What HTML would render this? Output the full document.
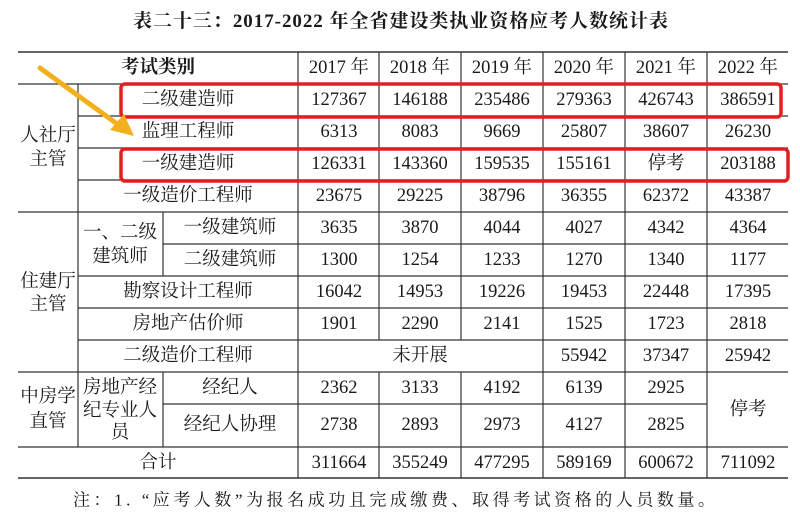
<!DOCTYPE html>
<html><head><meta charset="utf-8"><style>
html,body{margin:0;padding:0;background:#fff;}
svg{display:block;}
text{font-family:"Liberation Serif","Noto Serif CJK SC",serif;fill:#1a1a1a;}
</style></head><body>
<svg width="800" height="519" viewBox="0 0 800 519" xmlns="http://www.w3.org/2000/svg">
<text x="133" y="27" font-size="19" font-weight="bold" textLength="535" lengthAdjust="spacing">表二十三：2017-2022 年全省建设类执业资格应考人数统计表</text>
<g stroke="#333" stroke-width="1.2" fill="none">
<line x1="18" y1="52" x2="788" y2="52" stroke-width="1.6"/>
<line x1="18" y1="84" x2="788" y2="84"/>
<line x1="78" y1="116" x2="788" y2="116"/>
<line x1="78" y1="148" x2="788" y2="148"/>
<line x1="78" y1="180" x2="788" y2="180"/>
<line x1="18" y1="212" x2="788" y2="212"/>
<line x1="163" y1="244" x2="788" y2="244"/>
<line x1="78" y1="276" x2="788" y2="276"/>
<line x1="78" y1="308" x2="788" y2="308"/>
<line x1="78" y1="340" x2="788" y2="340"/>
<line x1="18" y1="372" x2="788" y2="372"/>
<line x1="163" y1="404" x2="707" y2="404"/>
<line x1="18" y1="447" x2="788" y2="447"/>
<line x1="18" y1="478" x2="788" y2="478" stroke-width="1.6"/>
<line x1="78" y1="84" x2="78" y2="447"/>
<line x1="163" y1="212" x2="163" y2="276"/>
<line x1="163" y1="372" x2="163" y2="447"/>
<line x1="298" y1="52" x2="298" y2="478"/>
<line x1="379" y1="52" x2="379" y2="340"/>
<line x1="379" y1="372" x2="379" y2="478"/>
<line x1="461" y1="52" x2="461" y2="340"/>
<line x1="461" y1="372" x2="461" y2="478"/>
<line x1="543" y1="52" x2="543" y2="478"/>
<line x1="625" y1="52" x2="625" y2="478"/>
<line x1="707" y1="52" x2="707" y2="478"/>
</g>
<g font-size="18.5" text-anchor="middle" dominant-baseline="central">
<text x="158" y="68" font-weight="bold">考试类别</text>
<text x="339" y="68">2017 年</text><text x="420" y="68">2018 年</text><text x="502" y="68">2019 年</text><text x="584" y="68">2020 年</text><text x="666" y="68">2021 年</text><text x="748" y="68">2022 年</text>
<text x="48" y="136">人社厅</text><text x="48" y="160">主管</text>
<text x="188" y="100">二级建造师</text><text x="339" y="100">127367</text><text x="420" y="100">146188</text><text x="502" y="100">235486</text><text x="584" y="100">279363</text><text x="666" y="100">426743</text><text x="748" y="100">386591</text>
<text x="188" y="132">监理工程师</text><text x="339" y="132">6313</text><text x="420" y="132">8083</text><text x="502" y="132">9669</text><text x="584" y="132">25807</text><text x="666" y="132">38607</text><text x="748" y="132">26230</text>
<text x="188" y="164">一级建造师</text><text x="339" y="164">126331</text><text x="420" y="164">143360</text><text x="502" y="164">159535</text><text x="584" y="164">155161</text><text x="666" y="164">停考</text><text x="748" y="164">203188</text>
<text x="188" y="196">一级造价工程师</text><text x="339" y="196">23675</text><text x="420" y="196">29225</text><text x="502" y="196">38796</text><text x="584" y="196">36355</text><text x="666" y="196">62372</text><text x="748" y="196">43387</text>
<text x="48" y="282">住建厅</text><text x="48" y="305">主管</text>
<text x="120" y="233">一、二级</text><text x="120" y="257">建筑师</text>
<text x="230" y="228">一级建筑师</text><text x="339" y="228">3635</text><text x="420" y="228">3870</text><text x="502" y="228">4044</text><text x="584" y="228">4027</text><text x="666" y="228">4342</text><text x="748" y="228">4364</text>
<text x="230" y="260">二级建筑师</text><text x="339" y="260">1300</text><text x="420" y="260">1254</text><text x="502" y="260">1233</text><text x="584" y="260">1270</text><text x="666" y="260">1340</text><text x="748" y="260">1177</text>
<text x="188" y="292">勘察设计工程师</text><text x="339" y="292">16042</text><text x="420" y="292">14953</text><text x="502" y="292">19226</text><text x="584" y="292">19453</text><text x="666" y="292">22448</text><text x="748" y="292">17395</text>
<text x="188" y="324">房地产估价师</text><text x="339" y="324">1901</text><text x="420" y="324">2290</text><text x="502" y="324">2141</text><text x="584" y="324">1525</text><text x="666" y="324">1723</text><text x="748" y="324">2818</text>
<text x="188" y="356">二级造价工程师</text><text x="420" y="356">未开展</text><text x="584" y="356">55942</text><text x="666" y="356">37347</text><text x="748" y="356">25942</text>
<text x="48" y="397">中房学</text><text x="48" y="422">直管</text>
<text x="120" y="388">房地产经</text><text x="120" y="411">纪专业人</text><text x="120" y="433">员</text>
<text x="230" y="388">经纪人</text><text x="339" y="388">2362</text><text x="420" y="388">3133</text><text x="502" y="388">4192</text><text x="584" y="388">6139</text><text x="666" y="388">2925</text>
<text x="230" y="425">经纪人协理</text><text x="339" y="425">2738</text><text x="420" y="425">2893</text><text x="502" y="425">2973</text><text x="584" y="425">4127</text><text x="666" y="425">2825</text>
<text x="748" y="410">停考</text>
<text x="158" y="463">合计</text><text x="339" y="463">311664</text><text x="420" y="463">355249</text><text x="502" y="463">477295</text><text x="584" y="463">589169</text><text x="666" y="463">600672</text><text x="748" y="463">711092</text>
</g>
<text x="73" y="500" font-size="17" dominant-baseline="central" textLength="642" lengthAdjust="spacing">注：1. “应考人数”为报名成功且完成缴费、取得考试资格的人员数量。</text>
<g fill="none" stroke="#e02020" stroke-width="3.5">
<rect x="121" y="84" width="660" height="33" rx="4"/>
<rect x="121" y="149" width="667" height="32" rx="4"/>
</g>
<line x1="40" y1="68" x2="120" y2="126" stroke="#f2b01e" stroke-width="5" stroke-linecap="round"/>
<polygon points="134,136 110,130 124,114" fill="#f2b01e"/>
</svg>
</body></html>
